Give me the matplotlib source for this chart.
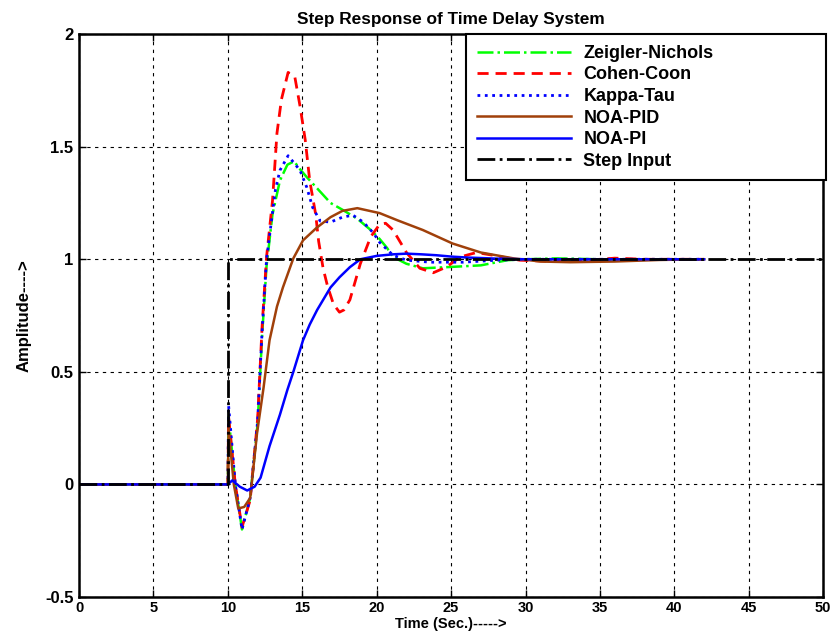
import matplotlib
matplotlib.use('Agg')
import matplotlib.pyplot as plt

plt.rcParams['font.family'] = ['Liberation Sans', 'DejaVu Sans']
plt.rcParams['font.weight'] = 'bold'

# Digitized step responses (time in sec, amplitude)
t_zn = [0, 10, 10.05, 10.5, 10.95, 11.5, 12.0, 12.3, 12.6, 13.0, 13.5, 14.0, 14.45, 14.85, 15.3, 16.0,
        16.9, 17.7, 18.7, 19.6, 20.2, 20.7, 21.1, 22.0, 23.1, 24.7, 27.0, 28.8, 30, 32, 35, 42]
y_zn = [0, 0, 0.3, 0.0, -0.2, -0.06, 0.27, 0.66, 0.97, 1.2, 1.35, 1.42, 1.435, 1.40, 1.365, 1.315,
        1.25, 1.22, 1.18, 1.13, 1.09, 1.05, 1.01, 0.98, 0.96, 0.965, 0.973, 0.996, 1.0, 1.004, 1.0, 1.0]

t_cc = [0, 10, 10.05, 10.5, 10.95, 11.5, 12.0, 12.3, 12.6, 13.0, 13.3, 13.6, 14.05, 14.5,
        14.85, 15.2, 15.5, 15.9, 16.1, 16.4, 16.7, 17.1, 17.5, 17.8, 18.2, 18.9, 19.6, 20.2, 20.6,
        21.1, 22.0, 22.9, 23.8, 24.7, 25.6, 26.7, 27.8, 29.6, 31.9, 34, 36, 38, 42]
y_cc = [0, 0, 0.3, 0.0, -0.19, -0.07, 0.29, 0.7, 1.01, 1.26, 1.56, 1.71, 1.83, 1.81,
        1.68, 1.53, 1.35, 1.2, 1.08, 0.96, 0.88, 0.80, 0.765, 0.775, 0.82, 0.98, 1.1, 1.155, 1.16,
        1.13, 1.03, 0.96, 0.94, 0.966, 1.01, 1.03, 1.018, 0.996, 0.99, 0.995, 1.005, 1.0, 1.0]

t_kt = [0, 10, 10.05, 10.5, 10.95, 11.5, 12.0, 12.3, 12.6, 13.2, 13.5, 14.05, 14.85, 15.3, 15.7,
        16.2, 16.9, 17.7, 18.4, 19.1, 19.8, 20.2, 21.1, 22.0, 23.6, 25.8, 28.1, 30, 35, 42]
y_kt = [0, 0, 0.35, 0.0, -0.2, -0.06, 0.28, 0.68, 1.0, 1.31, 1.395, 1.46, 1.395, 1.32, 1.23,
        1.17, 1.165, 1.187, 1.196, 1.165, 1.115, 1.075, 1.018, 0.996, 0.987, 0.987, 0.996, 1.0, 1.0, 1.0]

t_pid = [0, 10, 10.05, 10.4, 10.7, 11.1, 11.5, 11.96, 12.4, 12.8, 13.3, 13.7, 14.4, 15.05,
         16.0, 16.9, 17.7, 18.7, 20.2, 21.4, 23.1, 25.1, 27.0, 29.2, 31, 33, 36, 39, 42]
y_pid = [0, 0, 0.25, 0.0, -0.107, -0.1, -0.06, 0.227, 0.43, 0.64, 0.79, 0.875, 1.004, 1.084,
         1.142, 1.187, 1.215, 1.227, 1.205, 1.173, 1.13, 1.07, 1.03, 1.004, 0.99, 0.987, 0.99, 0.997, 1.0]

t_pi = [0, 10, 10.3, 10.8, 11.3, 11.8, 12.2, 12.8, 13.5, 14.0, 14.4, 15.05, 15.5, 16.0, 16.9, 17.5,
        18.2, 18.9, 20.0, 21.1, 22.0, 23.0, 24.0, 25.0, 26.0, 28.0, 30, 35, 42]
y_pi = [0, 0, 0.018, -0.01, -0.027, -0.01, 0.03, 0.17, 0.31, 0.42, 0.5, 0.64, 0.71, 0.775, 0.875, 0.92,
        0.965, 1.0, 1.015, 1.022, 1.025, 1.022, 1.018, 1.012, 1.008, 1.003, 1.0, 1.0, 1.0]

t_step = [0, 10, 10, 50]
y_step = [0, 0, 1, 1]

xticks = [0, 5, 10, 15, 20, 25, 30, 35, 40, 45, 50]
yticks = [-0.5, 0, 0.5, 1, 1.5, 2]
ytick_labels = ['-0.5', '0', '0.5', '1', '1.5', '2']

fig = plt.figure(figsize=(8.38, 6.44), dpi=100)
ax = fig.add_axes([0.0943, 0.073, 0.888, 0.874])

ax.plot(t_zn, y_zn, color='#00ff00', linestyle='-.', linewidth=1.8, label='Zeigler-Nichols')
ax.plot(t_cc, y_cc, color='#ff0000', linestyle=(0, (4, 2.5)), linewidth=2.0, label='Cohen-Coon')
ax.plot(t_kt, y_kt, color='#0000ff', linestyle=':', linewidth=2.0, label='Kappa-Tau')
ax.plot(t_pid, y_pid, color='#a0400a', linestyle='-', linewidth=1.8, label='NOA-PID')
ax.plot(t_pi, y_pi, color='#0000ff', linestyle='-', linewidth=1.8, label='NOA-PI')
ax.plot(t_step, y_step, color='black', linestyle='-.', linewidth=2.0, label='Step Input')

ax.set_xlim(0, 50)
ax.set_ylim(-0.5, 2)
ax.set_xticks(xticks)
ax.set_xticklabels([str(v) for v in xticks])
ax.set_yticks(yticks)
ax.set_yticklabels(ytick_labels)
ax.tick_params(direction='in', length=5, width=1, top=True, right=True)
ax.tick_params(axis='x', labelsize=10.5, pad=3)
ax.tick_params(axis='y', labelsize=12, pad=4)
ax.grid(True, color='black', linestyle=(0, (3, 4)), linewidth=0.8)
for s in ax.spines.values():
    s.set_linewidth(1.8)

ax.set_title('Step Response of Time Delay System', fontsize=12.4, fontweight='bold', pad=7)
ax.set_xlabel('Time (Sec.)----->', fontsize=10.5, fontweight='bold', labelpad=1)
ax.set_ylabel('Amplitude---->', fontsize=12, fontweight='bold', labelpad=10)

leg = ax.legend(loc='upper right', bbox_to_anchor=(0.52, 0.0, 0.484, 1.0), mode='expand',
                borderaxespad=0, fontsize=13, handlelength=5.2, handletextpad=0.7,
                labelspacing=0.25, fancybox=False, framealpha=1, edgecolor='black',
                borderpad=0.6)
leg.get_frame().set_linewidth(1.5)

fig.savefig('out.png', dpi=100)
plt.close(fig)
